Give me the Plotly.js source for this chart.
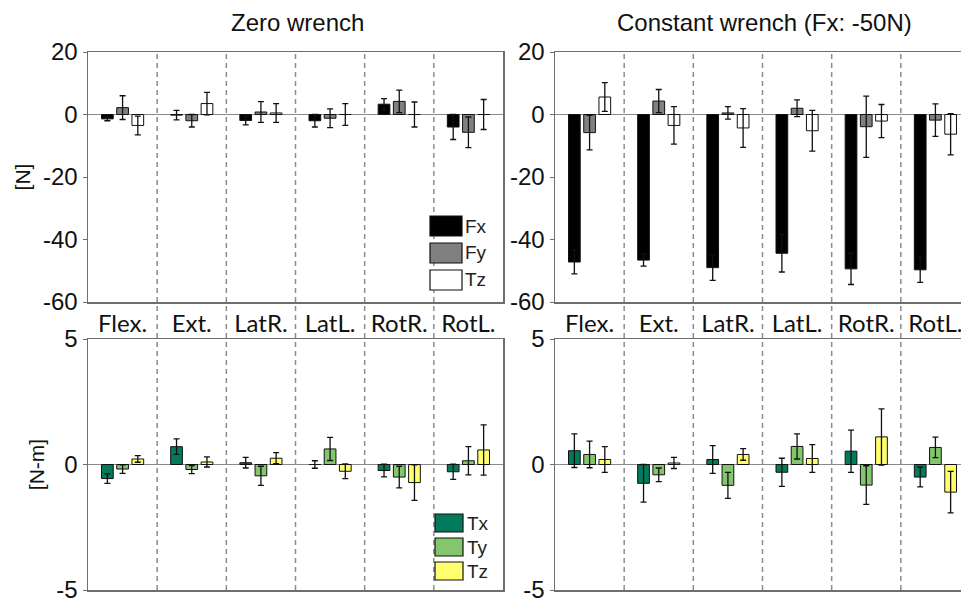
<!DOCTYPE html>
<html>
<head>
<meta charset="utf-8">
<script src="https://cdn.plot.ly/plotly-3.0.1.min.js"></script>
<style>html,body{margin:0;padding:0;background:#fff;overflow:hidden;}#chart{width:961px;height:602px;}</style>
</head>
<body>
<div id="chart"></div>
<script>
// ---- data ----
const categories = ['Flex.', 'Ext.', 'LatR.', 'LatL.', 'RotR.', 'RotL.'];
const forceNames = ['Fx', 'Fy', 'Tz'];
const torqueNames = ['Tx', 'Ty', 'Tz'];
const panelTitles = ['Zero wrench', 'Constant wrench (Fx: -50N)'];
const forceUnit = '[N]';
const torqueUnit = '[N-m]';
const forceTicks = [-60, -40, -20, 0, 20];
const torqueTicks = [-5, 0, 5];

// Zero wrench, forces [N]
const zeroFx = [-1.4, -0.2, -1.9, -2.0, 3.3, -4.0];
const zeroFxErr = [0.6, 1.5, 1.4, 2.0, 1.8, 4.0];
const zeroFy = [2.2, -2.0, 0.8, -1.2, 4.2, -5.7];
const zeroFyErr = [3.8, 2.0, 3.3, 3.0, 3.6, 4.9];
const zeroTz = [-3.5, 3.5, 0.5, 0.0, 0.0, 0.0];
const zeroTzErr = [3.0, 3.6, 3.0, 3.5, 4.0, 4.8];

// Constant wrench, forces [N]
const constFx = [-47.2, -46.6, -49.0, -44.4, -49.4, -49.7];
const constFxErr = [3.8, 1.9, 4.1, 6.0, 5.0, 4.0];
const constFy = [-5.8, 4.3, 0.5, 2.0, -3.9, -1.8];
const constFyErr = [5.5, 3.7, 2.0, 2.7, 9.8, 5.2];
const constTz = [5.6, -3.5, -4.3, -5.2, -2.1, -6.3];
const constTzErr = [4.6, 6.0, 6.2, 6.5, 5.3, 6.6];

// Zero wrench, torques [N-m]
const zeroTx = [-0.56, 0.71, 0.07, 0.0, -0.24, -0.29];
const zeroTxErr = [0.19, 0.31, 0.21, 0.15, 0.25, 0.30];
const zeroTy = [-0.18, -0.20, -0.45, 0.62, -0.50, 0.15];
const zeroTyErr = [0.17, 0.16, 0.38, 0.46, 0.43, 0.56];
const zeroTzT = [0.22, 0.10, 0.25, -0.27, -0.72, 0.58];
const zeroTzTErr = [0.13, 0.20, 0.22, 0.29, 0.71, 1.00];

// Constant wrench, torques [N-m]
const constTx = [0.55, -0.75, 0.20, -0.31, 0.53, -0.50];
const constTxErr = [0.67, 0.75, 0.55, 0.56, 0.84, 0.39];
const constTy = [0.40, -0.41, -0.83, 0.72, -0.82, 0.68];
const constTyErr = [0.53, 0.27, 0.52, 0.50, 0.77, 0.41];
const constTzT = [0.20, 0.06, 0.40, 0.24, 1.10, -1.10];
const constTzTErr = [0.51, 0.22, 0.23, 0.55, 1.12, 0.83];

// ---- styling ----
const W = 961, H = 602;
const px = x => x / W;
const py = y => 1 - y / H;
const forceColors = ['#000000', '#808080', '#ffffff'];
const torqueColors = ['#047a5c', '#84c66c', '#ffff6e'];
const FONT = 'Liberation Sans, Arial, sans-serif';

const leftDom = [px(88), px(503)];
const rightDom = [px(555), 1];
const topDom = [py(302), py(52)];
const botDom = [py(590), py(339)];
const catW = (503 - 88) / 6;
const rightMax = -0.5 + (W - 555) / catW;

function bars(vals, errs, names, colors, xa, ya) {
  return vals.map((v, i) => ({
    type: 'bar', x: categories, y: v, name: names[i], xaxis: xa, yaxis: ya,
    marker: {color: colors[i], line: {color: '#111', width: 1}},
    error_y: {type: 'data', array: errs[i], visible: true, color: '#111', thickness: 1.3, width: 3},
    showlegend: false, hoverinfo: 'skip'
  }));
}

const data = [
  ...bars([zeroFx, zeroFy, zeroTz], [zeroFxErr, zeroFyErr, zeroTzErr], forceNames, forceColors, 'x', 'y'),
  ...bars([constFx, constFy, constTz], [constFxErr, constFyErr, constTzErr], forceNames, forceColors, 'x2', 'y2'),
  ...bars([zeroTx, zeroTy, zeroTzT], [zeroTxErr, zeroTyErr, zeroTzTErr], torqueNames, torqueColors, 'x3', 'y3'),
  ...bars([constTx, constTy, constTzT], [constTxErr, constTyErr, constTzTErr], torqueNames, torqueColors, 'x4', 'y4')
];

const axLine = {showline: true, linecolor: '#6e6e6e', linewidth: 1.5, showgrid: false, zeroline: false, fixedrange: true};
function xAxis(dom, anchor, labels, mirror, right) {
  return Object.assign({}, axLine, {
    domain: dom, anchor: anchor, type: 'category', range: [-0.5, right],
    mirror: mirror, ticks: '', showticklabels: labels, ticklabeloverflow: 'allow',
    tickfont: {family: 'Lato, sans-serif', size: 24, color: '#111'}
  });
}
function yAxis(dom, anchor, rng, tv, title, mirror) {
  return Object.assign({}, axLine, {
    domain: dom, anchor: anchor, range: rng, tickvals: tv, ticktext: tv.map(String),
    ticks: 'outside', ticklen: 4, tickcolor: '#6e6e6e', mirror: mirror,
    ticklabeloverflow: 'allow',
    zeroline: true, zerolinecolor: '#8a8a8a', zerolinewidth: 1.5,
    tickfont: {family: FONT, size: 24, color: '#111'},
    title: {text: title, font: {family: FONT, size: 21, color: '#111'}, standoff: 6}
  });
}

const shapes = [];
['x', 'x2'].forEach(xr => {
  for (let i = 0; i < 5; i++) {
    shapes.push({type: 'line', xref: xr, yref: 'paper', x0: i + 0.5, x1: i + 0.5,
      y0: botDom[0], y1: topDom[1], layer: 'below',
      line: {color: '#8c8c8c', width: 1.5, dash: '5px,4px'}});
  }
});

const annotations = [
  {text: panelTitles[0], x: px(297), y: py(22), xref: 'paper', yref: 'paper', showarrow: false,
   font: {family: FONT, size: 24, color: '#111'}, xanchor: 'center', yanchor: 'middle'},
  {text: panelTitles[1], x: px(764), y: py(22), xref: 'paper', yref: 'paper', showarrow: false,
   font: {family: FONT, size: 24, color: '#111'}, xanchor: 'center', yanchor: 'middle'}
];

// legends (drawn boxes + labels)
function legend(names, colors, x0, x1, tops, h, tx) {
  names.forEach((n, i) => {
    shapes.push({type: 'rect', xref: 'paper', yref: 'paper', x0: px(x0), x1: px(x1),
      y0: py(tops[i] + h), y1: py(tops[i]), layer: 'above',
      fillcolor: colors[i], line: {color: '#111', width: 1.2}});
    annotations.push({text: n, x: px(tx), y: py(tops[i] + h / 2), xref: 'paper', yref: 'paper',
      showarrow: false, xanchor: 'left', yanchor: 'middle',
      font: {family: FONT, size: 19, color: '#222'}});
  });
}
legend(forceNames, forceColors, 430, 462, [216, 243, 270], 20, 463);
legend(torqueNames, torqueColors, 435, 463, [514, 538, 562], 18, 465);

const layout = {
  width: W, height: H, margin: {l: 0, r: 0, t: 0, b: 0},
  paper_bgcolor: '#fff', plot_bgcolor: '#fff', showlegend: false,
  barmode: 'group', bargap: 0.34, bargroupgap: 0.23,
  font: {family: FONT, color: '#111'},
  xaxis: xAxis(leftDom, 'y', true, true, 5.5),
  yaxis: yAxis(topDom, 'x', [-60, 20], forceTicks, forceUnit, true),
  xaxis2: xAxis(rightDom, 'y2', true, true, rightMax),
  yaxis2: yAxis(topDom, 'x2', [-60, 20], forceTicks, '', false),
  xaxis3: xAxis(leftDom, 'y3', false, true, 5.5),
  yaxis3: yAxis(botDom, 'x3', [-5, 5], torqueTicks, torqueUnit, true),
  xaxis4: xAxis(rightDom, 'y4', false, true, rightMax),
  yaxis4: yAxis(botDom, 'x4', [-5, 5], torqueTicks, '', false),
  shapes: shapes, annotations: annotations
};

Plotly.newPlot('chart', data, layout, {staticPlot: true, displayModeBar: false});
</script>
</body>
</html>
